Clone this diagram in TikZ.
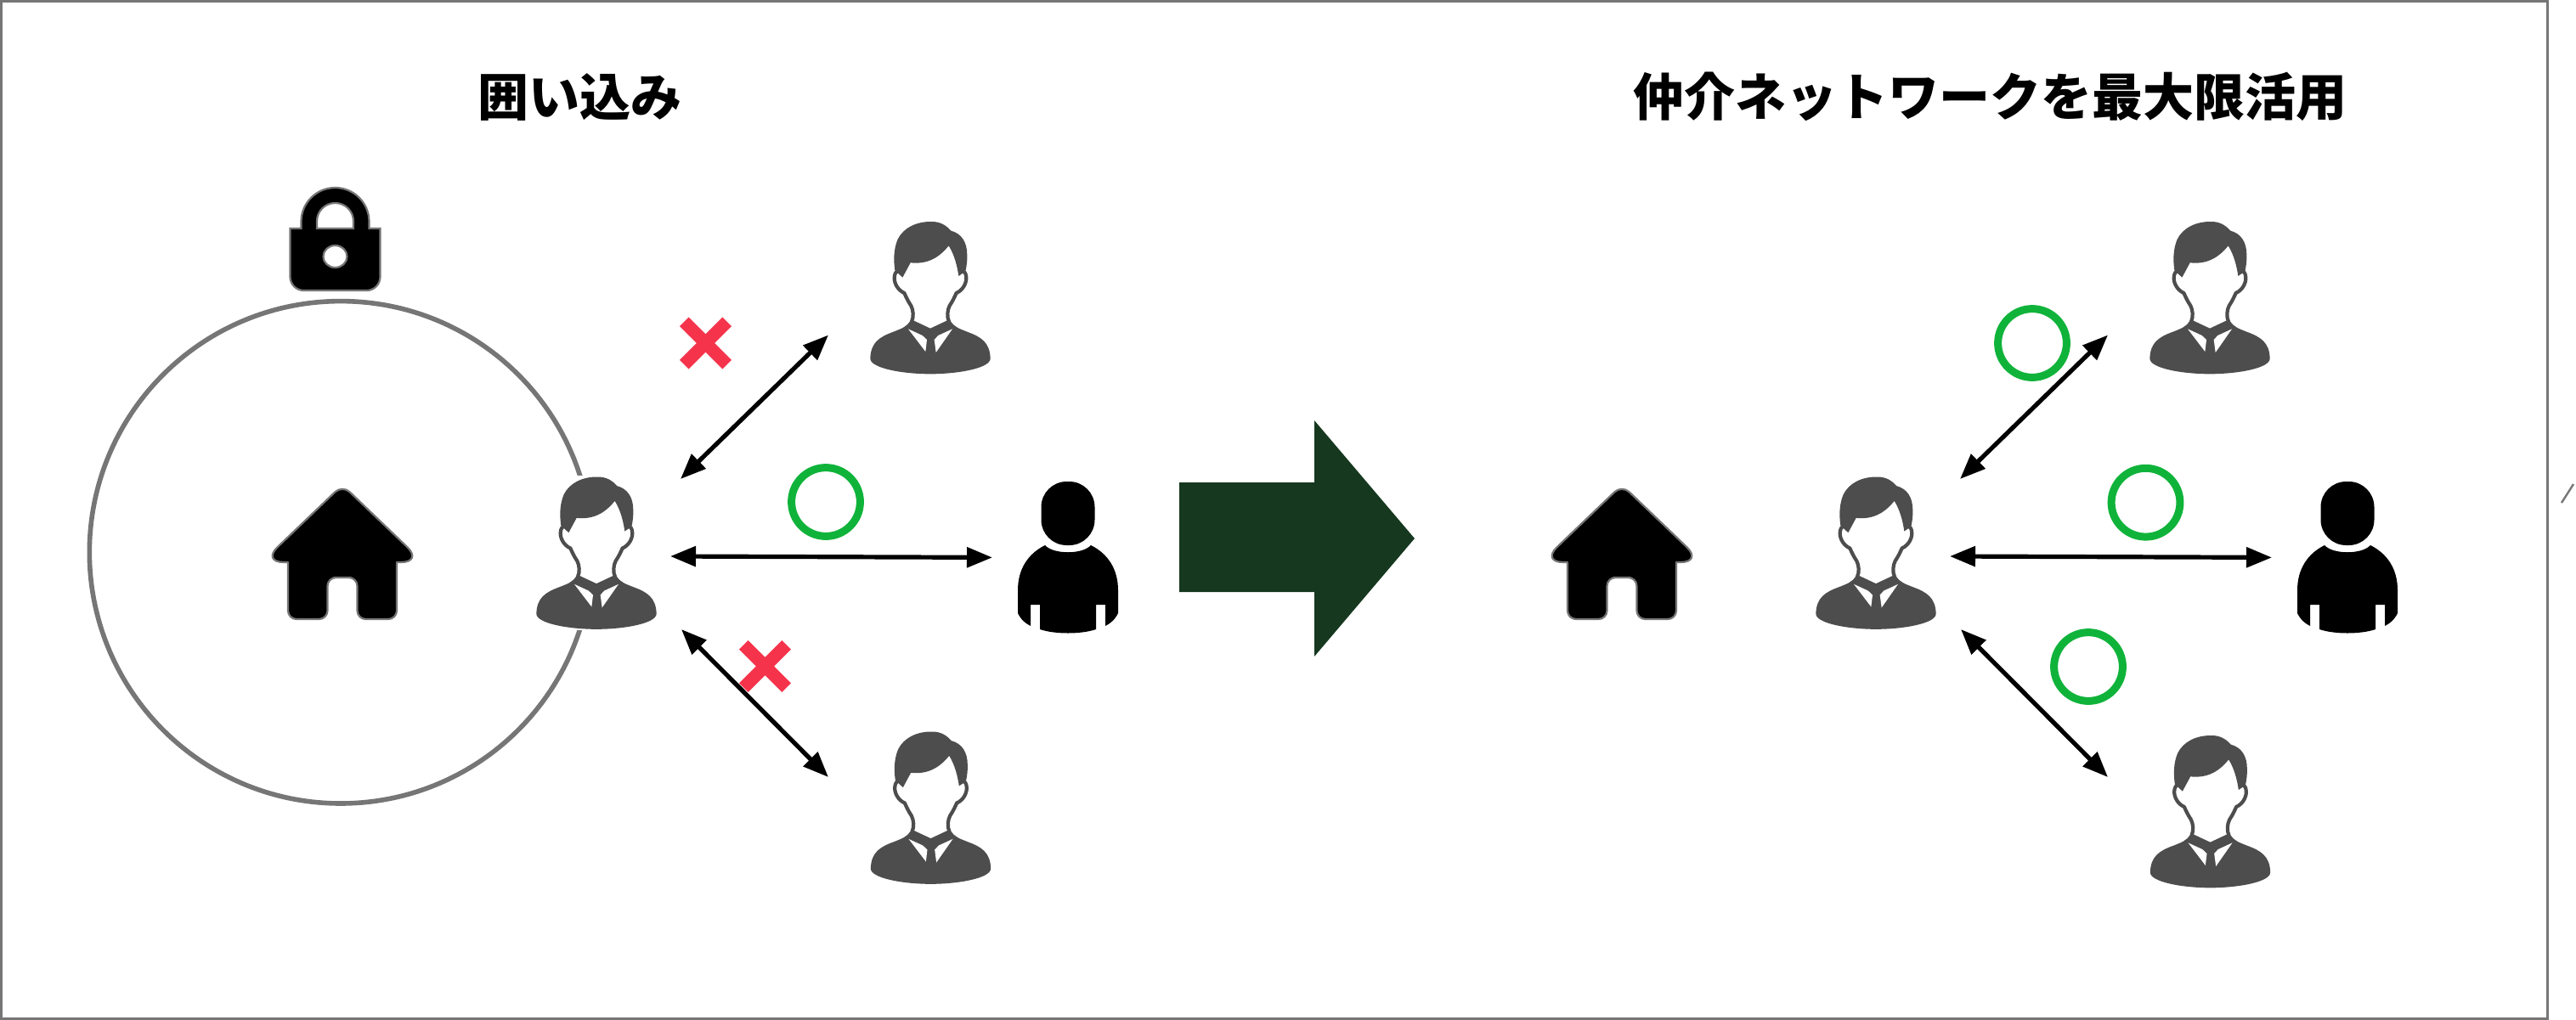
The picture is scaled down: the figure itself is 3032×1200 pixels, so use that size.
\documentclass[tikz,border=0pt]{standalone}
\usepackage{fontspec}
\newfontfamily\cjk{Noto Sans CJK JP}
\usetikzlibrary{shapes,arrows.meta,positioning,calc}
\definecolor{framegray}{HTML}{767676}
\definecolor{suitgray}{HTML}{4D4D4D}
\definecolor{okgreen}{HTML}{10B33A}
\definecolor{ngred}{HTML}{F5344C}
\definecolor{bigarrow}{HTML}{16381F}
\tikzstyle{title} = [inner sep=0pt, font=\cjk\bfseries\fontsize{15pt}{18pt}\selectfont]
\tikzstyle{personbox} = [rectangle, fill=white, inner sep=0pt, minimum width=35.5pt, minimum height=45.5pt]
\tikzstyle{iconbox} = [rectangle, inner sep=0pt, minimum width=42pt, minimum height=40pt]
\tikzstyle{okmark} = [circle, draw=okgreen, line width=2.25pt, inner sep=0pt, minimum size=20.2pt]
\tikzstyle{ngmark} = [cross out, draw=ngred, line width=3.75pt, inner sep=0pt, outer sep=0pt, minimum size=12.6pt]
\tikzstyle{line} = [draw, line width=1.3pt, {Triangle[length=7.5pt,width=5.8pt]}-{Triangle[length=7.5pt,width=5.8pt]}]
\tikzstyle{icon} = [fill=black, draw=framegray, line width=0.55pt]
\tikzset{
  agent/.pic={
    \begin{scope}[scale=0.3333]
      \fill[suitgray] (-212,215) .. controls (-210,160) and (-180,140) .. (-130,122) .. controls (-100,110) and (-85,105) .. (-72,85) -- (72,85) .. controls (85,105) and (100,110) .. (130,122) .. controls (180,140) and (210,160) .. (212,215) .. controls (215,250) and (100,271) .. (0,271) .. controls (-100,271) and (-215,250) .. (-212,215) -- cycle;
      % face, left open at the top under the hair
      \draw[suitgray, fill=white, line width=1.05pt, line join=round] (-112,-95) .. controls (-120,-92) and (-126,-85) .. (-127,-70) .. controls (-128,-50) and (-115,-25) .. (-92,-15) .. controls (-85,0) and (-80,12) .. (-68,30) .. controls (-60,45) and (-58,70) .. (-66,86) -- (0,117) -- (66,86) .. controls (58,70) and (60,45) .. (68,30) .. controls (80,12) and (85,0) .. (92,-15) .. controls (115,-25) and (128,-50) .. (127,-70) .. controls (126,-85) and (120,-92) .. (112,-95);
      \fill[suitgray] (-125,-95) .. controls (-130,-130) and (-130,-170) .. (-115,-205) .. controls (-95,-245) and (-50,-268) .. (5,-267) .. controls (35,-267) and (55,-255) .. (73,-235) .. controls (110,-225) and (130,-195) .. (130,-150) .. controls (131,-130) and (128,-110) .. (125,-95) -- (115,-85) -- (100,-75) .. controls (95,-110) and (85,-150) .. (65,-182) .. controls (35,-145) and (-5,-115) .. (-70,-122) -- (-98,-70) -- cycle;
      \fill[white] (-78,112) -- (-28,135) -- (-12,150) -- (-17,192) -- cycle;
      \fill[white] (78,112) -- (28,135) -- (14,150) -- (20,195) -- cycle;
    \end{scope}
  },
  customer/.pic={
    \fill[black, rounded corners=7.5pt] (-31.5,-93) rectangle (31.5,-18);
    \fill[black] (-27,-18) .. controls (-17,-7) and (17,-7) .. (27,-18) .. controls (47,-8) and (59,10) .. (59,35) -- (59,62) .. controls (55,70) and (50,74) .. (44,77) -- (44,52) -- (33,52) -- (33,81) .. controls (15,87) and (-15,87) .. (-33,81) -- (-33,52) -- (-44,52) -- (-44,77) .. controls (-50,74) and (-55,70) .. (-59,62) -- (-59,35) .. controls (-59,10) and (-47,-8) .. (-27,-18) -- cycle;
  },
  house/.pic={
    \draw[icon, line join=round, rounded corners=2.5pt] (0,30) -- (17.5,30) -- (17.5,79) -- (64,79) [sharp corners] -- (64,12) [rounded corners=6.5pt] -- (95,12) [rounded corners=3pt] -- (0,-79) [rounded corners=6.5pt] -- (-95,12) [sharp corners] -- (-64,12) [rounded corners=2.5pt] -- (-64,79) -- (-17.5,79) -- (-17.5,30) -- cycle;
  },
  padlock/.pic={
    \draw[icon, even odd rule] (-53,-31) -- (-40,-31) -- (-40,-39) arc[start angle=180, end angle=360, radius=40] -- (40,-31) -- (53,-31) [rounded corners=4pt] -- (53,42) -- (-53,42) [sharp corners] -- cycle
      (-21.5,-31) -- (-21.5,-39.5) arc[start angle=180, end angle=360, radius=21.5] -- (21.5,-31) -- cycle
      (0,2) ellipse[x radius=14, y radius=13];
  }
}
\begin{document}
\begin{tikzpicture}[x=0.25pt, y=-0.25pt]
		\useasboundingbox[fill=white] (0,0) rectangle (3032,1200);
		\draw[framegray, line width=0.75pt] (1.5,1.5) rectangle (2998,1199);
		\coordinate (slashA) at (3015,592);
		\coordinate (slashB) at (3029,570);
		\draw[framegray, line width=0.6pt] (slashA) -- (slashB);

		% Titles
		\node[title](titleL) at (682.6,114) {囲い込み};
		\node[title](titleR) at (2342.6,114) {仲介ネットワークを最大限活用};

		% Left side
		\node[circle, draw=framegray, line width=1.4pt, inner sep=0pt, outer sep=0pt, minimum size=147.85pt](ring) at (401,650.3) {};
		\node[iconbox](lockL) at (394.5,300) {};
		\pic at (lockL) {padlock};
		\node[iconbox](homeL) at (403,650) {};
		\pic at (homeL) {house};
		\node[personbox](agentL) at (702,650.5) {};
		\pic at (agentL) {agent};
		\node[personbox](buyerLa) at (1095,350) {};
		\pic at (buyerLa) {agent};
		\node[personbox](buyerLb) at (1095.5,950.5) {};
		\pic at (buyerLb) {agent};
		\node[personbox](custL) at (1257,660) {};
		\pic at (custL) {customer};
		\node[ngmark](ngLa) at (830.5,404) {};
		\node[okmark](okL) at (972,591) {};
		\node[ngmark](ngLb) at (900.5,784.5) {};

		% empty coordinates for arrow ends
		\coordinate (aLne) at (801,564);
		\coordinate (aLe) at (789,655);
		\coordinate (aLse) at (802,741);
		\coordinate (bLa) at (975,394.5);
		\coordinate (cL) at (1168,656.4);
		\coordinate (bLb) at (975,915);

		% Paths
		\path [line] (aLne) -- (bLa);
		\path [line] (aLe) -- (cL);
		\path [line] (aLse) -- (bLb);

		% Big arrow
		\fill[bigarrow] (1388,568) -- (1547,568) -- (1547,495) -- (1665,634) -- (1547,773) -- (1547,697) -- (1388,697) -- cycle;

		% Right side
		\node[iconbox](homeR) at (1909,650) {};
		\pic at (homeR) {house};
		\node[personbox](agentR) at (2208,650.5) {};
		\pic at (agentR) {agent};
		\node[personbox](buyerRa) at (2601,350) {};
		\pic at (buyerRa) {agent};
		\node[personbox](buyerRb) at (2601.5,955) {};
		\pic at (buyerRb) {agent};
		\node[personbox](custR) at (2763,660) {};
		\pic at (custR) {customer};
		\node[okmark](okRa) at (2392,404) {};
		\node[okmark](okRb) at (2525.5,591.7) {};
		\node[okmark](okRc) at (2458,785) {};

		\coordinate (aRne) at (2307,564);
		\coordinate (aRe) at (2295,655);
		\coordinate (aRse) at (2308,741);
		\coordinate (bRa) at (2481,394.5);
		\coordinate (cR) at (2674,656.4);
		\coordinate (bRb) at (2481,915);

		\path [line] (aRne) -- (bRa);
		\path [line] (aRe) -- (cR);
		\path [line] (aRse) -- (bRb);
	\end{tikzpicture}
\end{document}
